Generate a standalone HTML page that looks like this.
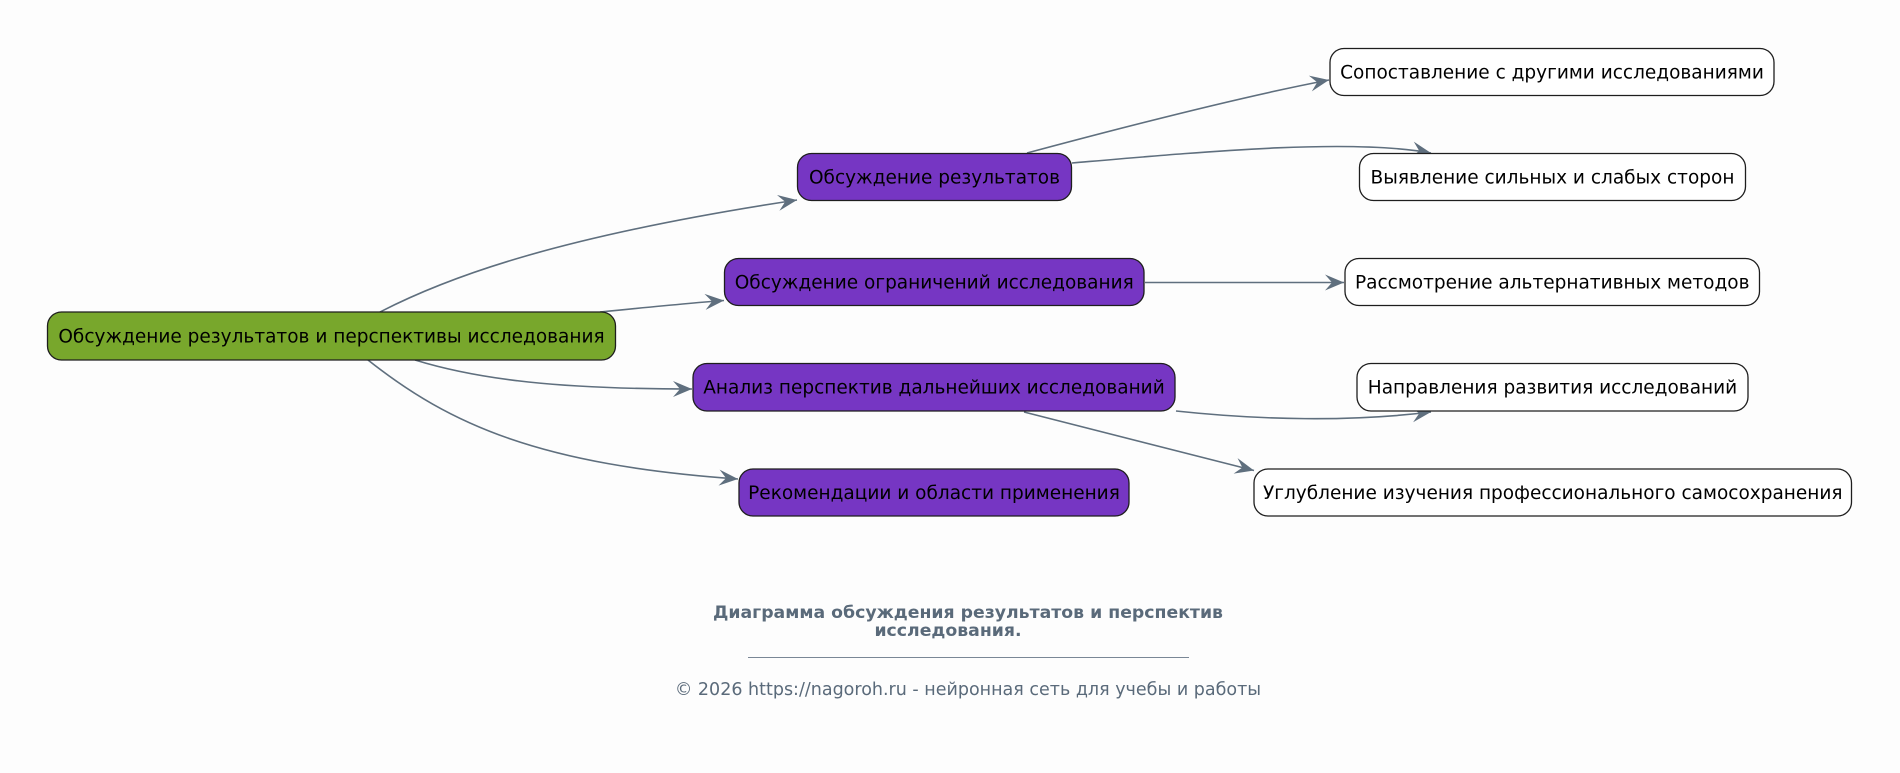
<!DOCTYPE html>
<html>
<head>
<meta charset="utf-8">
<style>
html,body{margin:0;padding:0;background:#fdfdfd;}
body{width:1900px;height:773px;overflow:hidden;}
svg{display:block;}
.n{font-family:"DejaVu Sans","Liberation Sans",sans-serif;font-size:18.5px;fill:#000;}
.e{fill:none;stroke:#5f6f7e;stroke-width:1.6;}
</style>
</head>
<body>
<svg width="1900" height="773" viewBox="0 0 1900 773" xmlns="http://www.w3.org/2000/svg">
<defs>
<marker id="a" viewBox="-22 -10 24 20" refX="0" refY="0" markerWidth="24" markerHeight="20" markerUnits="userSpaceOnUse" orient="auto">
<path d="M0,0 L-19,-8 L-12,0 L-19,8 Z" fill="#5f6f7e"/>
</marker>
</defs>
<rect x="0" y="0" width="1900" height="773" fill="#fdfdfd"/>

<!-- edges -->
<path class="e" d="M380,312 C450,276 560,236 797,200" marker-end="url(#a)"/>
<path class="e" d="M600,312 C650,307 690,303 724,300.5" marker-end="url(#a)"/>
<path class="e" d="M415,360 C480,380 560,389 692,389" marker-end="url(#a)"/>
<path class="e" d="M368,360 C450,425 540,465 738,479" marker-end="url(#a)"/>
<path class="e" d="M1027,153 C1150,120 1250,95 1329,80" marker-end="url(#a)"/>
<path class="e" d="M1072,163 C1200,152 1350,138 1431,153" marker-end="url(#a)"/>
<path class="e" d="M1145,282.5 L1344,282.5" marker-end="url(#a)"/>
<path class="e" d="M1176,411 C1260,420 1350,422 1431,412" marker-end="url(#a)"/>
<path class="e" d="M1024,412 L1254,470.5" marker-end="url(#a)"/>

<!-- nodes -->
<rect x="47.5" y="312" width="568" height="48" rx="14" fill="#78a72c" stroke="#1e1e1e" stroke-width="1.3"/>
<text class="n" x="331.5" y="342.5" text-anchor="middle">Обсуждение результатов и перспективы исследования</text>

<rect x="797.5" y="153.5" width="274" height="47" rx="14" fill="#7636c3" stroke="#1e1e1e" stroke-width="1.3"/>
<text class="n" x="934.5" y="183.5" text-anchor="middle">Обсуждение результатов</text>

<rect x="724.5" y="258.5" width="419.5" height="47" rx="14" fill="#7636c3" stroke="#1e1e1e" stroke-width="1.3"/>
<text class="n" x="934.25" y="288.5" text-anchor="middle">Обсуждение ограничений исследования</text>

<rect x="693" y="363.5" width="482" height="47.5" rx="14" fill="#7636c3" stroke="#1e1e1e" stroke-width="1.3"/>
<text class="n" x="934" y="393.5" text-anchor="middle">Анализ перспектив дальнейших исследований</text>

<rect x="739" y="469" width="390" height="47" rx="14" fill="#7636c3" stroke="#1e1e1e" stroke-width="1.3"/>
<text class="n" x="934" y="499" text-anchor="middle">Рекомендации и области применения</text>

<rect x="1330" y="48.5" width="444" height="47" rx="14" fill="#ffffff" stroke="#1e1e1e" stroke-width="1.3"/>
<text class="n" x="1552" y="78.5" text-anchor="middle">Сопоставление с другими исследованиями</text>

<rect x="1359.5" y="153.5" width="386" height="47" rx="14" fill="#ffffff" stroke="#1e1e1e" stroke-width="1.3"/>
<text class="n" x="1552.5" y="183.5" text-anchor="middle">Выявление сильных и слабых сторон</text>

<rect x="1345" y="258.5" width="414.5" height="47" rx="14" fill="#ffffff" stroke="#1e1e1e" stroke-width="1.3"/>
<text class="n" x="1552.25" y="288.5" text-anchor="middle">Рассмотрение альтернативных методов</text>

<rect x="1357" y="363.5" width="391" height="47.5" rx="14" fill="#ffffff" stroke="#1e1e1e" stroke-width="1.3"/>
<text class="n" x="1552.5" y="393.5" text-anchor="middle">Направления развития исследований</text>

<rect x="1254" y="469" width="597.5" height="47" rx="14" fill="#ffffff" stroke="#1e1e1e" stroke-width="1.3"/>
<text class="n" x="1552.75" y="499" text-anchor="middle">Углубление изучения профессионального самосохранения</text>

<!-- footer -->
<text x="968" y="618" text-anchor="middle" font-family="DejaVu Sans, Liberation Sans, sans-serif" font-size="17.3" font-weight="bold" fill="#5a6a7a">Диаграмма обсуждения результатов и перспектив</text>
<text x="948" y="636" text-anchor="middle" font-family="DejaVu Sans, Liberation Sans, sans-serif" font-size="17.3" font-weight="bold" fill="#5a6a7a">исследования.</text>
<line x1="748" y1="657.5" x2="1189" y2="657.5" stroke="#7a8796" stroke-width="1"/>
<text x="968" y="695" text-anchor="middle" font-family="DejaVu Sans, Liberation Sans, sans-serif" font-size="17.5" fill="#5a6a7a">© 2026 https://nagoroh.ru - нейронная сеть для учебы и работы</text>
</svg>
</body>
</html>
